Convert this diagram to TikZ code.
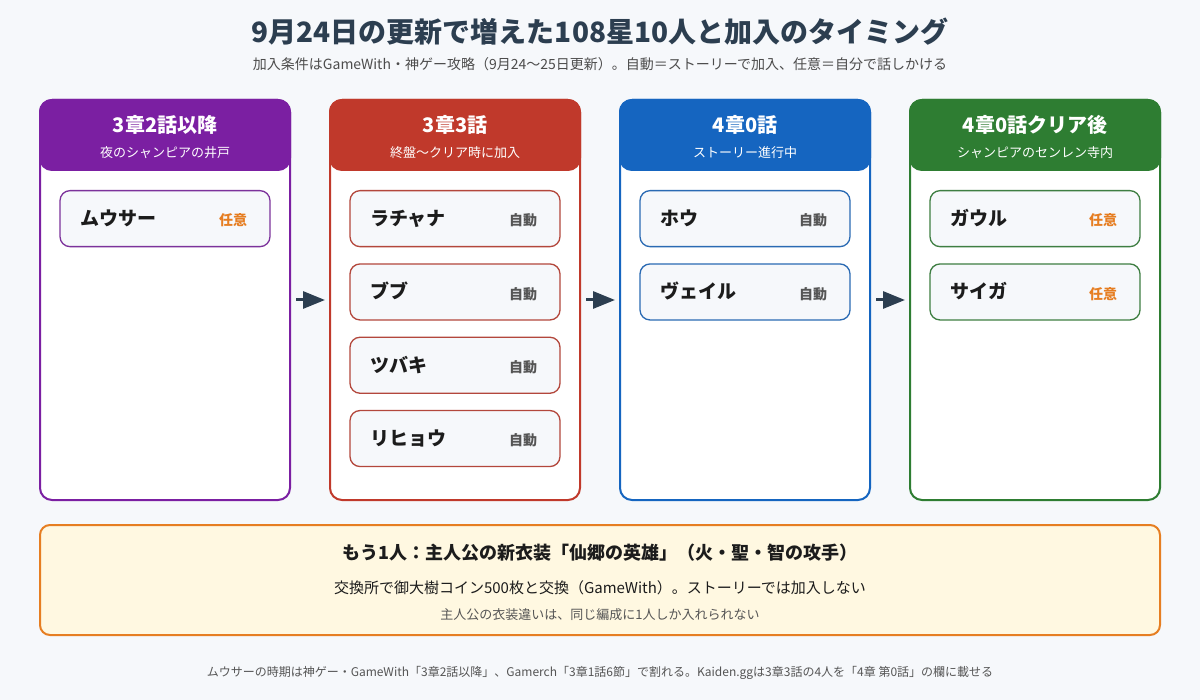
\documentclass[tikz,border=0pt]{standalone}
\usepackage{fontspec}
\setmainfont{Noto Sans CJK JP}
\usepackage{xcolor}
\definecolor{cInk}{HTML}{2C3E50}
\definecolor{cText}{HTML}{1C1C1C}
\definecolor{cGray}{HTML}{555555}
\definecolor{cBg}{HTML}{F6F8FB}
\definecolor{cPurple}{HTML}{7B1FA2}
\definecolor{cRed}{HTML}{C0392B}
\definecolor{cBlue}{HTML}{1565C0}
\definecolor{cGreen}{HTML}{2E7D32}
\definecolor{cOrange}{HTML}{E67E22}
\definecolor{cNote}{HTML}{FFF8E1}
\usetikzlibrary{positioning,arrows.meta,calc}
\tikzset{
  title-main/.style={font=\bfseries\fontsize{28}{32}\selectfont,text=cInk},
  title-sub/.style={font=\fontsize{14}{17}\selectfont,text=cGray!90!black},
  col-card/.style={draw=#1,line width=2pt,rounded corners=12pt,fill=white,
    minimum width=250pt,minimum height=400pt},
  col-head/.style={draw=#1,fill=#1,line width=2pt,rounded corners=12pt,
    minimum width=250pt,minimum height=70pt},
  head-title/.style={font=\bfseries\fontsize{20}{24}\selectfont,text=white,inner sep=0pt},
  head-sub/.style={font=\fontsize{13}{16}\selectfont,text=white,inner sep=0pt},
  item-box/.style={draw=#1!80!gray,line width=1.3pt,rounded corners=10pt,fill=cBg,
    text width=170pt,inner xsep=20pt,inner ysep=0pt,text height=16pt,text depth=2pt,
    minimum height=56pt,align=left,
    font=\bfseries\fontsize{19}{22}\selectfont,text=cText},
  tag-auto/.style={font=\bfseries\fontsize{14}{17}\selectfont,text=cGray,yshift=-2pt},
  tag-free/.style={font=\bfseries\fontsize{14}{17}\selectfont,text=cOrange,yshift=-2pt},
  arrow/.style={-{Triangle[length=22pt,width=17pt]},line width=3pt,draw=cInk,
    shorten <=5pt,shorten >=4pt},
  note-box/.style={draw=cOrange,line width=2pt,rounded corners=10pt,fill=cNote,
    minimum width=1120pt,minimum height=110pt},
  note-title/.style={font=\bfseries\fontsize{18}{22}\selectfont,text=cText},
  note-main/.style={font=\fontsize{15}{18}\selectfont,text=cText},
  note-small/.style={font=\fontsize{13}{16}\selectfont,text=cGray},
  foot/.style={font=\fontsize{12}{15}\selectfont,text=cGray},
}

\begin{document}
\begin{tikzpicture}[x=1pt,y=-1pt]
  \useasboundingbox[fill=cBg] (0,0) rectangle (1200,700);
  % 标题
  \node[title-main] (title) at (600,32) {9月24日の更新で増えた108星10人と加入のタイミング};
  \node[title-sub] (subtitle) at (600,64) {加入条件はGameWith・神ゲー攻略（9月24〜25日更新）。自動＝ストーリーで加入、任意＝自分で話しかける};

  % 列 1
  \node[col-card=cPurple] (c1) at (165,300) {};
  \node[col-head=cPurple,anchor=north] (h1) at (c1.north) {};
  \node[head-title] (h1t) at ($(h1.north)+(0,26)$) {3章2話以降};
  \node[head-sub] (h1s) at ($(h1.north)+(0,54)$) {夜のシャンピアの井戸};
  \node[item-box=cPurple,below=19pt of h1] (m1) {ムウサー};
  \node[tag-free,left=20pt of m1.east] (m1t) {任意};

  % 列 2
  \node[col-card=cRed] (c2) at (455,300) {};
  \node[col-head=cRed,anchor=north] (h2) at (c2.north) {};
  \node[head-title] (h2t) at ($(h2.north)+(0,26)$) {3章3話};
  \node[head-sub] (h2s) at ($(h2.north)+(0,54)$) {終盤〜クリア時に加入};
  \node[item-box=cRed,below=19pt of h2] (r1) {ラチャナ};
  \node[tag-auto,left=20pt of r1.east] (r1t) {自動};
  \node[item-box=cRed,below=16pt of r1] (r2) {ブブ};
  \node[tag-auto,left=20pt of r2.east] (r2t) {自動};
  \node[item-box=cRed,below=16pt of r2] (r3) {ツバキ};
  \node[tag-auto,left=20pt of r3.east] (r3t) {自動};
  \node[item-box=cRed,below=16pt of r3] (r4) {リヒョウ};
  \node[tag-auto,left=20pt of r4.east] (r4t) {自動};

  % 列 3
  \node[col-card=cBlue] (c3) at (745,300) {};
  \node[col-head=cBlue,anchor=north] (h3) at (c3.north) {};
  \node[head-title] (h3t) at ($(h3.north)+(0,26)$) {4章0話};
  \node[head-sub] (h3s) at ($(h3.north)+(0,54)$) {ストーリー進行中};
  \node[item-box=cBlue,below=19pt of h3] (b1) {ホウ};
  \node[tag-auto,left=20pt of b1.east] (b1t) {自動};
  \node[item-box=cBlue,below=16pt of b1] (b2) {ヴェイル};
  \node[tag-auto,left=20pt of b2.east] (b2t) {自動};

  % 列 4
  \node[col-card=cGreen] (c4) at (1035,300) {};
  \node[col-head=cGreen,anchor=north] (h4) at (c4.north) {};
  \node[head-title] (h4t) at ($(h4.north)+(0,26)$) {4章0話クリア後};
  \node[head-sub] (h4s) at ($(h4.north)+(0,54)$) {シャンピアのセンレン寺内};
  \node[item-box=cGreen,below=19pt of h4] (g1) {ガウル};
  \node[tag-free,left=20pt of g1.east] (g1t) {任意};
  \node[item-box=cGreen,below=16pt of g1] (g2) {サイガ};
  \node[tag-free,left=20pt of g2.east] (g2t) {任意};

  \draw[arrow] (c1) -- (c2);
  \draw[arrow] (c2) -- (c3);
  \draw[arrow] (c3) -- (c4);

  % 主人公
  \node[note-box] (note) at (600,580) {};
  \node[note-title] (nt) at (600,553) {もう1人：主人公の新衣装「仙郷の英雄」（火・聖・智の攻手）};
  \node[note-main] (nm) at (600,588) {交換所で御大樹コイン500枚と交換（GameWith）。ストーリーでは加入しない};
  \node[note-small] (ns) at (600,615) {主人公の衣装違いは、同じ編成に1人しか入れられない};

  \node[foot] (foot) at (600,673) {ムウサーの時期は神ゲー・GameWith「3章2話以降」、Gamerch「3章1話6節」で割れる。Kaiden.ggは3章3話の4人を「4章 第0話」の欄に載せる};
\end{tikzpicture}
\end{document}
